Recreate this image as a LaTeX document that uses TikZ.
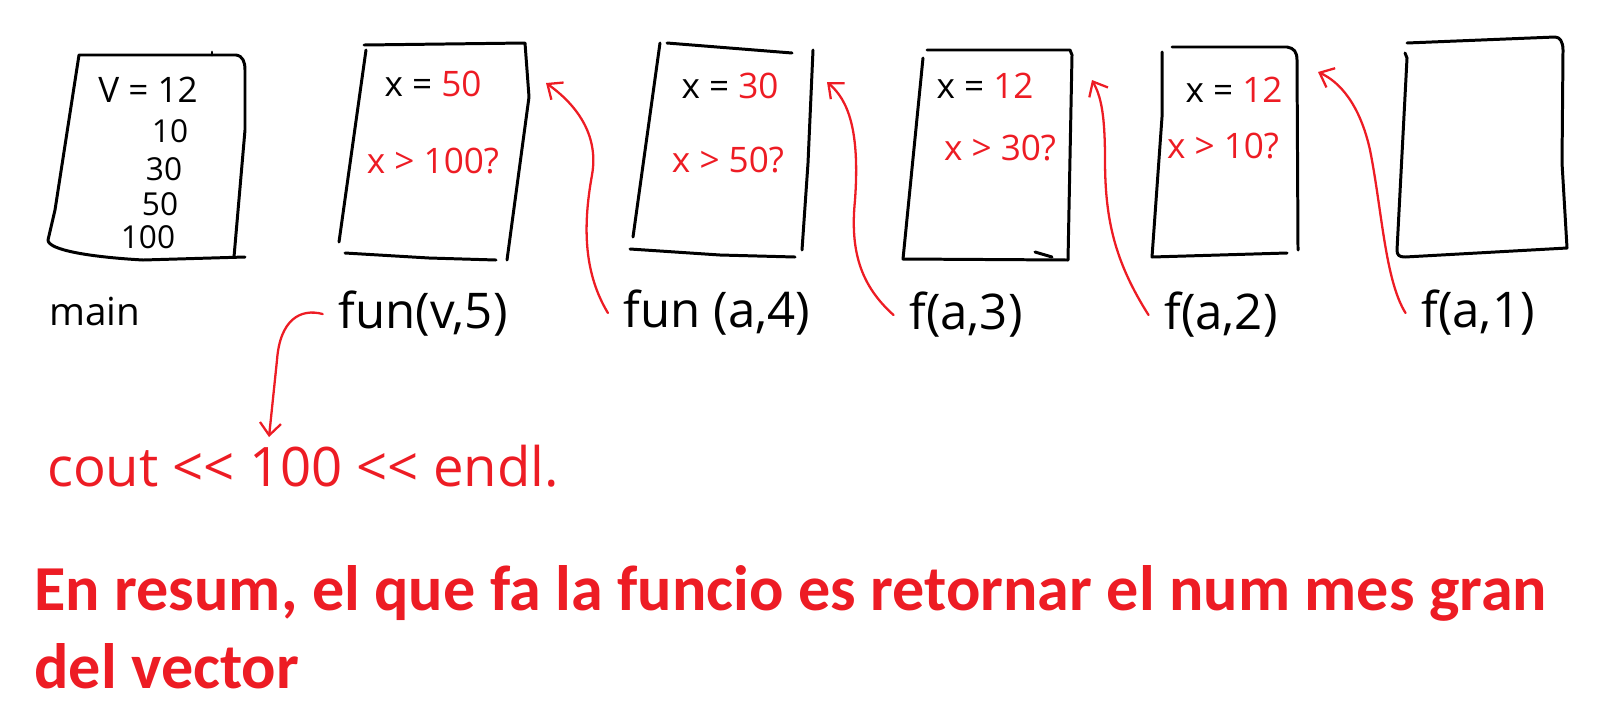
\documentclass[tikz,border=0pt]{standalone}
\usepackage{fontspec}
\usepackage{xcolor}
\usepackage{tikz}
\usetikzlibrary{arrows.meta,positioning}
\newfontfamily\handfont{Open Sans}
\newfontfamily\sumfont{Carlito}
\definecolor{hred}{RGB}{237,28,36}

\begin{document}
\begin{tikzpicture}[
  x=0.02cm, y=-0.02cm,
  frame/.style={line width=1.7pt, line cap=round, line join=round},
  boxtxt/.style={font=\handfont\fontsize{20}{24}\selectfont, inner sep=0pt},
  redtxt/.style={boxtxt, text=hred},
  vectxt/.style={font=\handfont\fontsize{18}{22}\selectfont, inner sep=0pt},
  lbl/.style={font=\handfont\fontsize{28}{32}\selectfont, inner sep=2pt, outer sep=7pt},
  callarrow/.style={draw=hred, line width=1.3pt, line cap=round, -{Straight Barb[length=7pt,width=12pt]}},
  summary/.style={font=\sumfont\bfseries\fontsize{36.5}{44}\selectfont, text=hred, inner sep=0pt}
]
\useasboundingbox (0,0) rectangle (1601,721);

% Frames of the stack
\draw[frame] (245,257) -- (143,260) .. controls (90,257) and (48,250) .. (48,240) -- (55,210) -- (79,55) -- (236,55) .. controls (243,56) and (245,62) .. (245,70) -- (245,130) -- (234,257);
\draw[frame] (212,52) -- (212,55);

\draw[frame] (366,50) -- (339,242);
\draw[frame] (364,45) -- (525,43) -- (529,97) -- (507,260);
\draw[frame] (345,253) -- (429,258) -- (496,260);

\draw[frame] (660,43) -- (633,237);
\draw[frame] (667,43) -- (792,53);
\draw[frame] (813,50) -- (808,163) -- (802,250);
\draw[frame] (630,249) -- (720,255) -- (795,257);

\draw[frame] (923,58) -- (903,259) -- (1068,260) -- (1072,55) -- (1070,50) -- (927,50);
\draw[frame] (1035,252) -- (1052,257);

\draw[frame] (1162,52) -- (1162,117) -- (1152,257) -- (1287,253);
\draw[frame] (1172,47) -- (1287,47) .. controls (1294,48) and (1297,52) .. (1297,60) -- (1298,250);

\draw[frame] (1405,53) -- (1407,58) -- (1397,250) .. controls (1397,255) and (1399,257) .. (1405,257) -- (1567,248) -- (1562,163) -- (1563,50) .. controls (1563,42) and (1560,37) .. (1555,37) -- (1407,43);

% Contents
\node[boxtxt] (v12) at (148,90) {V = 12};
\node[vectxt] (v10) at (170,131) {10};
\node[vectxt] (v30) at (164,169) {30};
\node[vectxt] (v50) at (160,204) {50};
\node[vectxt] (v100) at (148,237) {100};

\node[boxtxt] (x50) at (433,84) {x = \textcolor{hred}{50}};
\node[redtxt] (q100) at (433,161) {x > 100?};
\node[boxtxt] (x30) at (730,86) {x = \textcolor{hred}{30}};
\node[redtxt] (q50) at (728,160) {x > 50?};
\node[boxtxt] (x12a) at (985,86) {x = \textcolor{hred}{12}};
\node[redtxt] (q30) at (1000,148) {x > 30?};
\node[boxtxt] (x12b) at (1234,90) {x = \textcolor{hred}{12}};
\node[redtxt] (q10) at (1223,146) {x > 10?};

% Calls
\node[lbl, font=\handfont\fontsize{22}{26}\selectfont] (main) at (95,311) {main};
\node[lbl] (fun5) at (423,314) {fun(v,5)};
\node[lbl] (fun4) at (717,313) {fun (a,4)};
\node[lbl] (f3) at (966,315) {f(a,3)};
\node[lbl] (f2) at (1221,315) {f(a,2)};
\node[lbl] (f1) at (1478,313) {f(a,1)};

\node[lbl, text=hred, font=\handfont\fontsize{31}{36}\selectfont] (cout) at (303,466) {cout << 100 << endl.};

\coordinate (in2) at (546,83);
\coordinate (in3) at (827,82);
\coordinate (in4) at (1092,80);
\coordinate (in5) at (1318,72);
\coordinate (hit) at (269,437);

% Returns
\draw[callarrow] (fun4.west) .. controls (585,275) and (582,230) .. (592,175) .. controls (600,130) and (570,100) .. (in2);
\draw[callarrow] (f3.west) .. controls (860,285) and (850,250) .. (855,200) .. controls (860,130) and (848,100) .. (in3);
\draw[callarrow] (f2.west) .. controls (1115,262) and (1105,220) .. (1105,160) .. controls (1105,110) and (1100,95) .. (in4);
\draw[callarrow] (f1.west) .. controls (1385,280) and (1382,210) .. (1370,150) .. controls (1360,105) and (1340,82) .. (in5);
\draw[callarrow] (fun5.west) .. controls (300,308) and (280,320) .. (277,360) -- (hit);

% Conclusion
\node[summary, anchor=base west] (sum1) at (34,610) {En resum, el que fa la funcio es retornar el num mes gran};
\node[summary, anchor=base west] (sum2) at (34,688) {del vector};

\end{tikzpicture}
\end{document}
